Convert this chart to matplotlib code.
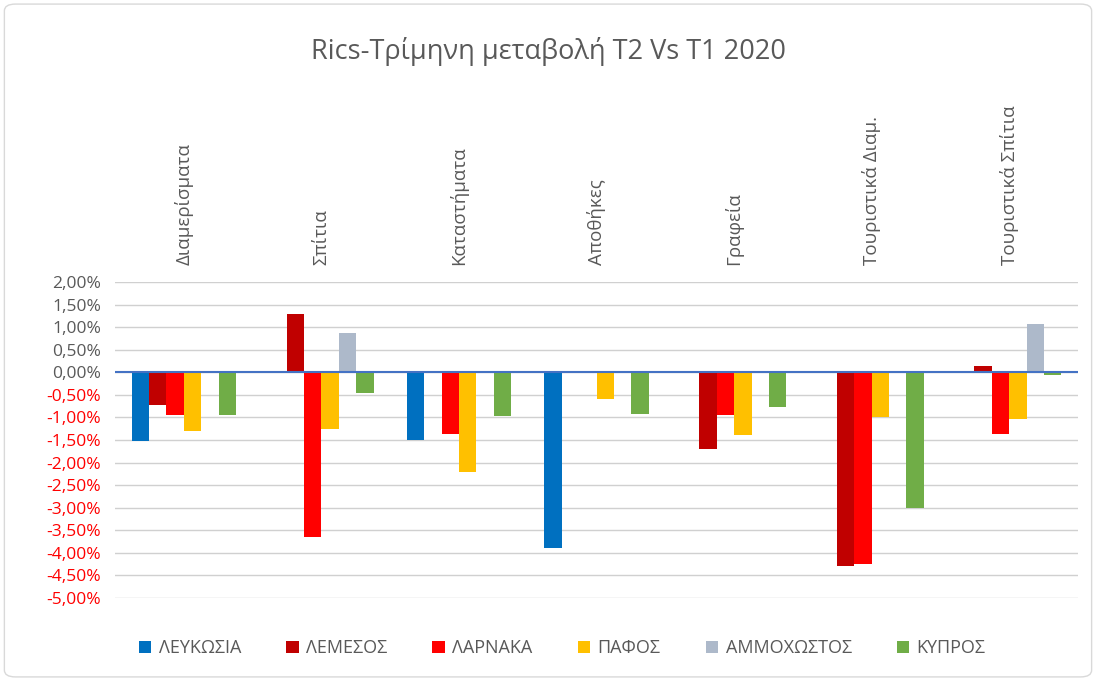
import numpy as np
import matplotlib
matplotlib.use("Agg")
import matplotlib.pyplot as plt
from matplotlib.patches import FancyBboxPatch, Patch
from matplotlib.ticker import FuncFormatter, MultipleLocator

plt.rcParams['font.family'] = ['Open Sans', 'DejaVu Sans']

categories = ["Διαμερίσματα", "Σπίτια", "Καταστήματα", "Αποθήκες", "Γραφεία",
              "Τουριστικά Διαμ.", "Τουριστικά Σπίτια"]
series_names = ["ΛΕΥΚΩΣΙΑ", "ΛΕΜΕΣΟΣ", "ΛΑΡΝΑΚΑ", "ΠΑΦΟΣ", "ΑΜΜΟΧΩΣΤΟΣ", "ΚΥΠΡΟΣ"]
nan = np.nan
lefkosia   = [-1.53, nan, -1.49, -3.89, nan, nan, nan]
lemesos    = [-0.73, 1.30, nan, nan, -1.71, -4.29, 0.14]
larnaka    = [-0.95, -3.66, -1.36, nan, -0.95, -4.24, -1.36]
pafos      = [-1.31, -1.26, -2.20, -0.59, -1.40, -1.00, -1.04]
ammochostos = [nan, 0.86, nan, nan, nan, nan, 1.08]
kypros     = [-0.95, -0.47, -0.96, -0.92, -0.77, -3.00, -0.06]
series_values = [lefkosia, lemesos, larnaka, pafos, ammochostos, kypros]
colors = ["#0070C0", "#C00000", "#FF0000", "#FFC000", "#ADB9CA", "#70AD47"]

fig = plt.figure(figsize=(10.96, 6.81), dpi=100)
fig.patches.append(FancyBboxPatch((0.004, 0.006), 0.992, 0.988,
                                  boxstyle="round,pad=0,rounding_size=0.01",
                                  transform=fig.transFigure, fill=False,
                                  edgecolor="#D9D9D9", linewidth=1))

ax = fig.add_axes([0.105, 0.1219, 0.8786, 0.464])
x = np.arange(len(categories))
bw = 0.1265
n = len(series_names)
for i, (name, vals, c) in enumerate(zip(series_names, series_values, colors)):
    offs = (i - (n - 1) / 2) * bw
    ax.bar(x + offs, np.array(vals, dtype=float), width=bw, color=c, label=name, zorder=3)

ax.set_xlim(-0.5, len(categories) - 0.5)
ax.set_ylim(-5.0, 2.0)
ax.yaxis.set_major_locator(MultipleLocator(0.5))

def fmt(v, pos):
    return ("%.2f%%" % v).replace(".", ",").replace("-0,00", "0,00")
ax.yaxis.set_major_formatter(FuncFormatter(fmt))
ax.tick_params(axis='y', length=0, labelsize=12.5, pad=10)
for lab, v in zip(ax.get_yticklabels(), ax.get_yticks()):
    lab.set_color("#FF0000" if v < -1e-9 else "#595959")
ax.grid(axis='y', color="#D0D0D0", linewidth=1, zorder=0)
ax.axhline(0, color="#4472C4", linewidth=1.5, zorder=4)
for s in ax.spines.values():
    s.set_visible(False)

ax.xaxis.tick_top()
ax.set_xticks(x)
ax.set_xticklabels(categories, rotation=90, fontsize=13.5, color="#595959")
ax.tick_params(axis='x', length=0, pad=12)

fig.suptitle("Rics-Τρίμηνη μεταβολή T2 Vs T1 2020", x=0.5, y=0.925, va='center',
             fontsize=19.5, color="#595959")

handles = [Patch(facecolor=c, edgecolor='none') for c in colors]
fig.legend(handles, series_names, loc='center', bbox_to_anchor=(0.513, 0.048), ncol=6,
           frameon=False, fontsize=13, handlelength=0.7, handleheight=0.7,
           handletextpad=0.4, columnspacing=2.5, labelcolor="#595959")

fig.savefig("out.png", dpi=100, facecolor="white")
